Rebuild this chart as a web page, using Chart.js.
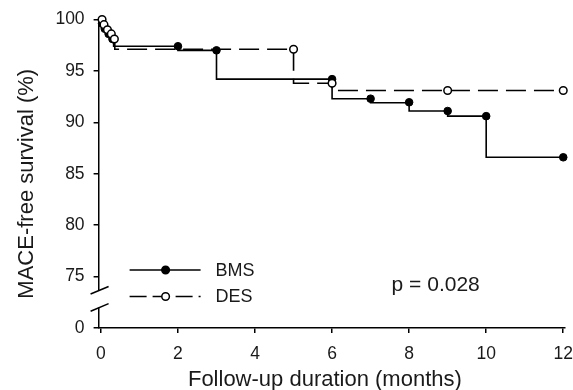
<!DOCTYPE html>
<html><head><meta charset="utf-8">
<script src="https://cdn.jsdelivr.net/npm/chart.js@4/dist/chart.umd.min.js"></script>
<style>html,body{margin:0;padding:0;background:#fff}#wrap{width:573px;height:390px;position:relative}</style>
</head><body><div id="wrap"><canvas id="c" width="573" height="390"></canvas></div>
<script>
// ---- data ----
const X_TICKS = [0, 2, 4, 6, 8, 10, 12];
const Y_TICKS = [70, 75, 80, 85, 90, 95, 100];
const Y_TICK_LABELS = ['0', '75', '80', '85', '90', '95', '100'];
const SERIES_NAMES = ['BMS', 'DES'];

const BMS_STEP_TIMES = [0, 0.02, 0.07, 0.14, 0.24, 0.33, 2, 3, 6, 7, 8, 9, 10, 12];
const BMS_STEP_SURV  = [100, 99.6, 99.1, 98.6, 98.1, 97.4, 97.0, 94.2, 92.3, 91.9, 91.1, 90.6, 86.6, 86.6];
const BMS_MARK_TIMES = [0.03, 0.1, 0.2, 0.3, 2, 3, 6, 7, 8, 9, 10, 12];
const BMS_MARK_SURV  = [99.6, 99.1, 98.6, 98.1, 97.4, 97.0, 94.2, 92.3, 91.95, 91.1, 90.6, 86.6];

const DES_STEP_TIMES = [0, 0.06, 0.12, 0.22, 0.31, 0.36, 5, 6, 12];
const DES_STEP_SURV  = [100, 99.5, 99.0, 98.6, 98.1, 97.1, 93.8, 93.1, 93.1];
const DES_MARK_TIMES = [0.03, 0.08, 0.17, 0.27, 0.35, 5, 6, 9, 12];
const DES_MARK_SURV  = [100, 99.5, 99.0, 98.6, 98.1, 97.1, 93.8, 93.1, 93.1];

const P_TEXT = 'p = 0.028';
const X_TITLE = 'Follow-up duration (months)';
const Y_TITLE = 'MACE-free survival (%)';
const BREAK_VALUES = [73.67, 72.0];

// ---- styling ----
const FONT = "'Liberation Sans', Arial, Helvetica, sans-serif";
const TXT = '#1a1a1a';
const DASH = [20, 8];
const pts = (t, s) => t.map((x, i) => ({x: x, y: s[i]}));

const legendPlugin = {
  id: 'kmLegend',
  afterDraw(chart) {
    const ctx = chart.ctx, a = chart.chartArea;
    ctx.save();
    const rows = [
      {y: a.bottom - 58, dash: [], fill: '#000'},
      {y: a.bottom - 31.5, dash: [17, 6], fill: '#fff'}
    ];
    rows.forEach((r, i) => {
      const x0 = a.left + 31, x1 = a.left + 102, xm = a.left + 67;
      ctx.beginPath();
      ctx.setLineDash(r.dash);
      ctx.lineWidth = 1.6; ctx.strokeStyle = '#000';
      ctx.moveTo(x0, r.y); ctx.lineTo(x1, r.y); ctx.stroke();
      ctx.setLineDash([]);
      ctx.beginPath(); ctx.arc(xm, r.y, 3.8, 0, Math.PI * 2);
      ctx.fillStyle = r.fill; ctx.fill(); ctx.lineWidth = 1.5; ctx.stroke();
      ctx.fillStyle = TXT; ctx.font = '18px ' + FONT;
      ctx.textBaseline = 'middle'; ctx.textAlign = 'left';
      ctx.fillText(SERIES_NAMES[i], a.left + 117, r.y + 1);
    });
    ctx.font = '21px ' + FONT;
    ctx.fillText(P_TEXT, a.left + 293, a.bottom - 43);
    // x-axis title
    ctx.textAlign = 'center'; ctx.textBaseline = 'middle';
    ctx.font = '22px ' + FONT;
    ctx.fillText(X_TITLE, (a.left + a.right) / 2 - 7, a.bottom + 52);
    // y-axis title
    ctx.translate(27, (a.top + a.bottom) / 2 + 10);
    ctx.rotate(-Math.PI / 2);
    ctx.fillText(Y_TITLE, 0, 0);
    ctx.restore();
  }
};

const breakPlugin = {
  id: 'axisBreak',
  afterDraw(chart) {
    const ctx = chart.ctx, a = chart.chartArea, ys = chart.scales.y;
    const yA = ys.getPixelForValue(BREAK_VALUES[0]);
    const yB = ys.getPixelForValue(BREAK_VALUES[1]);
    const x = a.left;
    ctx.save();
    ctx.fillStyle = '#fff';
    ctx.fillRect(x - 3, yA, 6, yB - yA);
    ctx.strokeStyle = '#000'; ctx.lineWidth = 1.5;
    [yA, yB].forEach(y => {
      ctx.beginPath();
      ctx.moveTo(x - 8, y + 3.8); ctx.lineTo(x + 10, y - 3.8); ctx.stroke();
    });
    ctx.restore();
  }
};

new Chart(document.getElementById('c'), {
  type: 'line',
  data: {
    datasets: [
      {label: 'DES marks', data: pts(DES_MARK_TIMES, DES_MARK_SURV), showLine: false,
       pointRadius: 3.8, pointBackgroundColor: '#fff', pointBorderColor: '#000', pointBorderWidth: 1.5, order: 0, clip: false},
      {label: 'BMS marks', data: pts(BMS_MARK_TIMES, BMS_MARK_SURV), showLine: false,
       pointRadius: 3.8, pointBackgroundColor: '#000', pointBorderColor: '#000', pointBorderWidth: 1, order: 1, clip: false},
      {label: 'DES', data: pts(DES_STEP_TIMES, DES_STEP_SURV), stepped: true, borderColor: '#000',
       borderWidth: 1.6, borderDash: DASH, pointRadius: 0, fill: false, order: 2, clip: false},
      {label: 'BMS', data: pts(BMS_STEP_TIMES, BMS_STEP_SURV), stepped: true, borderColor: '#000',
       borderWidth: 1.6, pointRadius: 0, fill: false, order: 3, clip: false}
    ]
  },
  options: {
    responsive: false, animation: false, devicePixelRatio: 1,
    layout: {padding: {top: 11, right: 0, bottom: 15, left: 46.4}},
    plugins: {legend: {display: false}, tooltip: {enabled: false}},
    scales: {
      x: {
        type: 'linear', min: -0.06, max: 12.05,
        afterBuildTicks: s => { s.ticks = X_TICKS.map(v => ({value: v})); },
        border: {display: true, color: '#000', width: 1.5},
        grid: {display: true, drawOnChartArea: false, drawTicks: true, tickLength: 5, color: '#000', lineWidth: 1.5},
        ticks: {color: TXT, font: {family: FONT, size: 17.5, lineHeight: 2.4}, padding: 0, maxRotation: 0},
        title: {display: false}
      },
      y: {
        type: 'linear', min: 70, max: 100,
        afterBuildTicks: s => { s.ticks = Y_TICKS.map(v => ({value: v})); },
        border: {display: true, color: '#000', width: 1.5},
        grid: {display: true, drawOnChartArea: false, drawTicks: true, tickLength: 5, color: '#000', lineWidth: 1.5},
        ticks: {color: TXT, font: {family: FONT, size: 17.5}, padding: 9,
                callback: v => Y_TICK_LABELS[Y_TICKS.indexOf(v)]},
        title: {display: false}
      }
    }
  },
  plugins: [legendPlugin, breakPlugin]
});
</script></body></html>
